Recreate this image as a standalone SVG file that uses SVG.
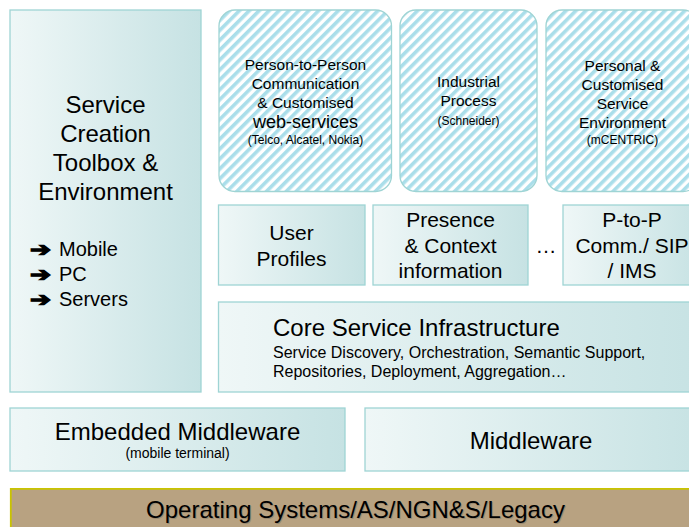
<svg xmlns="http://www.w3.org/2000/svg" width="689" height="527" viewBox="0 0 689 527">
<defs>
<linearGradient id="g" x1="0" y1="0" x2="1" y2="0">
<stop offset="0" stop-color="#eff7f7"/>
<stop offset="1" stop-color="#c6e2e3"/>
</linearGradient>
<pattern id="hatch" width="7" height="7" patternUnits="userSpaceOnUse" patternTransform="rotate(45)">
<rect width="7" height="7" fill="#ffffff"/>
<rect width="3.6" height="7" fill="#aadeea"/>
</pattern>
<style>
.box{fill:url(#g);stroke:#9fd4d4;stroke-width:1.3}
.hb{fill:url(#hatch);stroke:#9fd4d4;stroke-width:1.3}
text{font-family:"Liberation Sans",Arial,sans-serif;fill:#000;text-anchor:middle}
.l{text-anchor:start}
.ar{font-family:"DejaVu Sans",sans-serif;font-size:19px;font-weight:bold;text-anchor:start;stroke:#000;stroke-width:1.3}
.f24{font-size:24px}
.f21{font-size:21px}
.f20{font-size:20px}
.f16{font-size:16px}
.f15{font-size:15.5px}
.f18{font-size:18px}
.f12{font-size:12px}
</style>
</defs>
<rect width="689" height="527" fill="#fff"/>

<g id="service-creation">
<rect class="box" x="10" y="10" width="191" height="382"/>
<text class="f24" x="105.5" y="113">Service</text>
<text class="f24" x="105.5" y="142">Creation</text>
<text class="f24" x="105.5" y="171">Toolbox &amp;</text>
<text class="f24" x="105.5" y="200">Environment</text>
<text class="ar" x="30" y="256" textLength="21" lengthAdjust="spacingAndGlyphs">➔</text>
<text class="f20 l" x="59" y="256">Mobile</text>
<text class="ar" x="30" y="281" textLength="21" lengthAdjust="spacingAndGlyphs">➔</text>
<text class="f20 l" x="59" y="281">PC</text>
<text class="ar" x="30" y="306" textLength="21" lengthAdjust="spacingAndGlyphs">➔</text>
<text class="f20 l" x="59" y="306">Servers</text>
</g>

<g id="p2p-communication">
<rect class="hb" x="219" y="10" width="172.5" height="181.5" rx="16"/>
<text class="f15" x="305.5" y="70">Person-to-Person</text>
<text class="f15" x="305.5" y="89">Communication</text>
<text class="f15" x="305.5" y="108">&amp; Customised</text>
<text class="f18" x="305.5" y="128">web-services</text>
<text class="f12" x="305.5" y="144">(Telco, Alcatel, Nokia)</text>
</g>

<g id="industrial-process">
<rect class="hb" x="400" y="10" width="137" height="181.5" rx="16"/>
<text class="f15" x="468.5" y="87">Industrial</text>
<text class="f15" x="468.5" y="106">Process</text>
<text class="f12" x="468.5" y="125">(Schneider)</text>
</g>

<g id="personal-service">
<rect class="hb" x="546" y="10" width="153" height="181.5" rx="16"/>
<text class="f15" x="622.5" y="71">Personal &amp;</text>
<text class="f15" x="622.5" y="90">Customised</text>
<text class="f15" x="622.5" y="109">Service</text>
<text class="f15" x="622.5" y="128">Environment</text>
<text class="f12" x="622.5" y="144">(mCENTRIC)</text>
</g>

<g id="user-profiles">
<rect class="box" x="218.5" y="205" width="146.5" height="80"/>
<text class="f21" x="291.5" y="240">User</text>
<text class="f21" x="291.5" y="266">Profiles</text>
</g>

<g id="presence">
<rect class="box" x="373" y="205" width="155" height="80"/>
<text class="f21" x="450.5" y="227">Presence</text>
<text class="f21" x="450.5" y="253">&amp; Context</text>
<text class="f21" x="450.5" y="278">information</text>
</g>

<g id="ellipsis">
<text class="f21" x="546" y="253">…</text>
</g>

<g id="p2p-sip">
<rect class="box" x="563" y="205" width="140" height="80"/>
<text class="f21" x="632" y="227">P-to-P</text>
<text class="f21" x="632" y="253">Comm./ SIP</text>
<text class="f21" x="632" y="278">/ IMS</text>
</g>

<g id="core-service">
<rect class="box" x="218.5" y="302" width="490" height="90"/>
<text class="f24 l" x="273" y="336">Core Service Infrastructure</text>
<text class="f16 l" x="273" y="358">Service Discovery, Orchestration, Semantic Support,</text>
<text class="f16 l" x="273" y="377">Repositories, Deployment, Aggregation…</text>
</g>

<g id="embedded-middleware">
<rect class="box" x="10" y="408" width="335" height="63"/>
<text class="f24" x="177.5" y="440">Embedded Middleware</text>
<text class="f15" x="177.5" y="458" style="font-size:14px">(mobile terminal)</text>
</g>

<g id="middleware">
<rect class="box" x="365" y="408" width="340" height="63"/>
<text class="f24" x="531" y="449">Middleware</text>
</g>

<g id="operating-systems">
<rect x="10" y="488" width="700" height="50" fill="#b8a281"/>
<path d="M10.8 538 V488.8 H700" fill="none" stroke="#c9c400" stroke-width="1.8"/>
<text class="f24" x="355.5" y="518" style="text-shadow:1px 1px 0 #9a8a70">Operating Systems/AS/NGN&amp;S/Legacy</text>
</g>

<g id="connectors"></g>
</svg>
